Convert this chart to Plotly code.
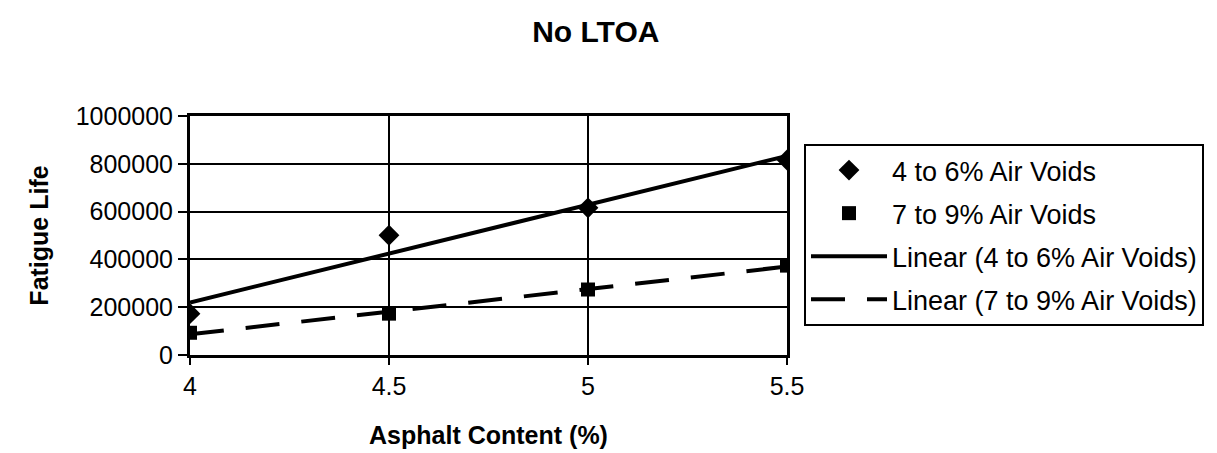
import numpy as np
import plotly.graph_objects as go

asphalt = [4, 4.5, 5, 5.5]
voids_4_6 = [173000, 501000, 616000, 816000]
voids_7_9 = [93000, 173000, 274000, 374000]
x_ticks = [4, 4.5, 5, 5.5]
x_tick_labels = ["4", "4.5", "5", "5.5"]
y_ticks = [0, 200000, 400000, 600000, 800000, 1000000]

def trend(xs, ys):
    m, b = np.polyfit(xs, ys, 1)
    xx = [min(xs), max(xs)]
    return xx, [m * v + b for v in xx]

t1x, t1y = trend(asphalt, voids_4_6)
t2x, t2y = trend(asphalt, voids_7_9)

FONT = "Liberation Sans, Arial, sans-serif"

fig = go.Figure()
fig.add_trace(go.Scatter(x=t1x, y=t1y, mode="lines", name="Linear (4 to 6% Air Voids)",
                         line=dict(color="black", width=4), legendrank=3, legendgroup="c"))
fig.add_trace(go.Scatter(x=t2x, y=t2y, mode="lines", name="Linear (7 to 9% Air Voids)",
                         line=dict(color="black", width=4, dash="34px,22px"), legendrank=4, legendgroup="d"))
fig.add_trace(go.Scatter(x=asphalt, y=voids_4_6, mode="markers", name="4 to 6% Air Voids",
                         marker=dict(symbol="diamond", size=16, color="black"), legendrank=1, legendgroup="a"))
fig.add_trace(go.Scatter(x=asphalt, y=voids_7_9, mode="markers", name="7 to 9% Air Voids",
                         marker=dict(symbol="square", size=14, color="black"), legendrank=2, legendgroup="b"))

fig.update_layout(
    width=1217, height=453,
    margin=dict(l=182, r=438, t=108, b=106),
    paper_bgcolor="white", plot_bgcolor="white",
    font=dict(family=FONT, size=25, color="black"),
    title=dict(text="<b>No LTOA</b>", xref="container", x=0.483, xanchor="center",
               yref="container", y=0.949, yanchor="middle",
               font=dict(size=30, family=FONT, color="black")),
    showlegend=True,
    legend=dict(x=(796 - 182) / 597, xanchor="left", y=(347 - 136) / 239, yanchor="top",
                bordercolor="black", borderwidth=2, bgcolor="white",
                font=dict(size=27, family=FONT, color="black"),
                itemwidth=76, tracegroupgap=5, traceorder="grouped"),
    xaxis=dict(range=[4, 5.5], tickvals=x_ticks, ticktext=x_tick_labels,
               showgrid=True, gridcolor="black", gridwidth=1.5,
               showline=True, linecolor="black", linewidth=3, mirror=True,
               ticks="outside", ticklen=7, tickwidth=2, tickcolor="black",
               zeroline=False, tickfont=dict(size=25),
               title=dict(text="<b>Asphalt Content (%)</b>", font=dict(size=25, family=FONT), standoff=28)),
    yaxis=dict(range=[0, 1000000], tickvals=y_ticks, tickformat="d",
               showgrid=True, gridcolor="black", gridwidth=1.5,
               showline=True, linecolor="black", linewidth=3, mirror=True,
               ticks="outside", ticklen=9, tickwidth=2, tickcolor="black",
               zeroline=False, tickfont=dict(size=25),
               title=dict(text="<b>Fatigue Life</b>", font=dict(size=25, family=FONT), standoff=20)),
)

fig.write_html("out.html")
